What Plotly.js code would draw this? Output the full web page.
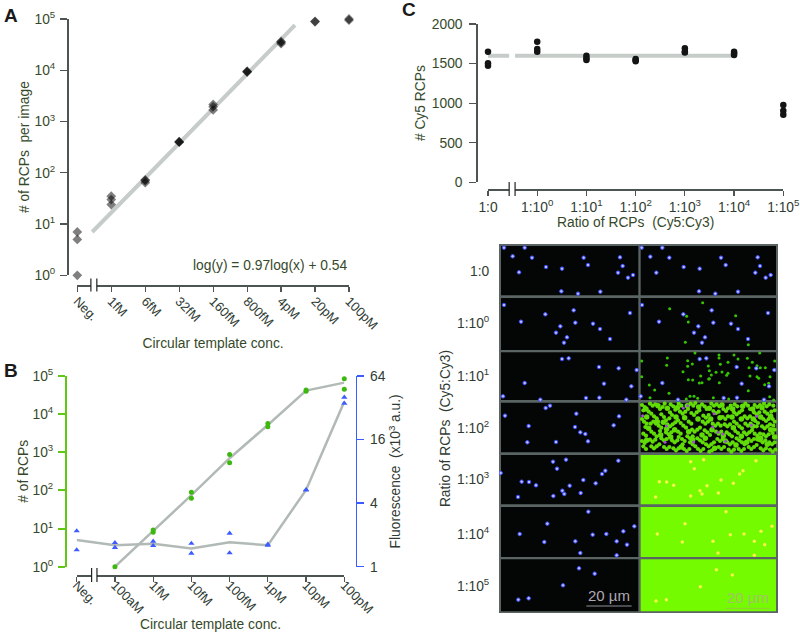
<!DOCTYPE html>
<html>
<head>
<meta charset="utf-8">
<script src="https://cdn.plot.ly/plotly-3.0.1.min.js"></script>
<style>html,body{margin:0;padding:0;background:#fff}#chart{width:800px;height:632px}</style>
</head>
<body>
<div id="chart"></div>
<script>
// ---------- Panel A ----------
const aCats = ['Neg.','1fM','6fM','32fM','160fM','800fM','4pM','20pM','100pM'];
const aX = [0,0,0, 1,1,1, 2,2,2, 3,3,3, 4,4,4, 5,5,5, 6,6,6, 7,7,7, 8,8,8];
const aY = [1,5,7, 24,30,35, 64,70,73, 395,400,405, 1680,1950,2150, 9200,9400,9600, 33000,35000,36500, 88000,90000,107000, 95000,100000,103000];
const aFitX = [0.44,6.41];
const aFitY = [7,76000];
// ---------- Panel B ----------
const bCats = ['Neg.','100aM','1fM','10fM','100fM','1pM','10pM','100pM'];
const bRcpX = [1,2,2,3,3,4,4,5,5,6,6,7,7];
const bRcpY = [1,8,9.2,62,89,535,880,4700,5700,40000,43000,45000,85000];
const bRcpLineX = [1,2,3,4,5,6,7];
const bRcpLineY = [1,8.6,75,700,5200,41500,67000];
const bFluX = [0,0,1,1,2,2,3,3,4,4,5,5,6,6,7,7];
const bFluY = [1.44,2.18,1.52,1.69,1.58,1.74,1.34,1.66,1.35,2.07,1.59,1.63,5.3,5.36,35.3,40.2];
const bFluLineX = [0,1,2,3,4,5,6,7];
const bFluLineY = [1.79,1.6,1.65,1.49,1.7,1.6,5.33,36.6];
// ---------- Panel C ----------
const cCats = ['1:0','1:10<sup>0</sup>','1:10<sup>1</sup>','1:10<sup>2</sup>','1:10<sup>3</sup>','1:10<sup>4</sup>','1:10<sup>5</sup>'];
const cX = [0,0,0,1,1,1,2,2,2,3,3,3,4,4,4,5,5,5,6,6,6];
const cY = [1474,1503,1650,1650,1684,1777,1545,1566,1600,1528,1545,1558,1640,1650,1693,1608,1629,1650,855,905,977];
const cLineX = [0,0.43,null,0.55,5];
const cLineY = [1600,1600,null,1600,1600];
// ---------- Micrograph grid (units: thirds of a pixel) ----------
const rowLabels = ['1:0','1:10<sup>0</sup>','1:10<sup>1</sup>','1:10<sup>2</sup>','1:10<sup>3</sup>','1:10<sup>4</sup>','1:10<sup>5</sup>'];
const rowCentres = [107,265,424,578,733,897,1053];
const rowTop = [33,189,352,503,660,816,973];
const rowBottom = [181,345,495,652,808,966,1129];
const blueSpots = [
[222,38],[284,38],[248,64],[306,68],[348,96],[396,101],[267,112],[461,68],[474,90],[570,67],[578,93],[564,113],[594,128],[609,120],[394,169],[444,176],[511,170],
[635,38],[697,38],[661,65],[718,68],[761,96],[809,101],[679,113],[873,68],[887,90],[983,67],[990,93],[976,113],[1007,128],[1022,120],[807,169],[856,176],[924,170],
[222,210],[346,238],[431,226],[600,234],[273,260],[436,263],[489,266],[391,274],[510,282],[378,293],[411,307],[540,312],[402,323],
[636,210],[760,238],[845,226],[1014,234],[687,260],[850,263],[903,266],[805,274],[924,282],[792,293],[825,307],[954,312],[816,323],
[396,372],[416,370],[507,396],[566,400],[620,405],[284,444],[522,446],[604,454],[219,484],[331,494],[468,489],[508,488],[589,494],
[809,372],[829,370],[920,396],[979,400],[1033,405],[697,444],[935,446],[1017,454],[632,484],[744,494],[881,489],[921,488],[1002,494],
[347,519],[360,512],[225,542],[439,536],[567,544],[296,573],[435,576],[551,571],[451,592],[466,597],[292,622],[378,621],[474,619],
[369,680],[408,674],[381,701],[565,677],[526,707],[516,717],[212,714],[275,740],[297,741],[318,751],[460,735],[497,745],[419,752],[397,767],[403,777],[452,774],[370,783],[264,786],
[475,830],[352,866],[269,897],[613,874],[580,889],[529,897],[488,899],[343,921],[436,919],[560,919],[591,929],[451,954],[560,961],
[447,1000],[494,1016],[399,1051],[265,1094],[296,1090]
];
const greenSpots = [
[719,221],[818,203],[770,244],[917,242],[775,261],[766,322],[955,329],
[795,354],[712,369],[635,378],[773,377],[787,387],[710,391],[773,394],[759,410],[835,393],[635,425],[812,423],[775,434],[788,435],[808,444],[816,443],[838,431],[658,450],[674,465],[717,475],[780,484],[792,484],[660,488],[769,492],[803,490],
[989,354],[867,360],[912,360],[867,369],[952,370],[924,372],[894,382],[871,388],[967,382],[1034,378],[981,392],[957,398],[991,398],[1006,398],[838,407],[858,412],[876,411],[894,415],[890,421],[960,423],[981,425],[986,430],[1020,425],[844,420],[836,432],[868,443],[1004,449],[1016,445],[955,467],[1019,485],[850,488],[896,492],[1031,495]
];
const denseSpots = [
[636,510],[644,516],[640,526],[660,506],[668,512],[676,508],[656,530],[664,536],[672,544],[680,550],[690,522],[698,516],[704,506],[694,538],[702,546],[708,556],[722,508],[730,514],[736,524],[720,532],[726,540],[718,550],[746,506],[754,512],[750,530],[758,536],[766,530],[774,522],[782,506],[790,512],[796,504],[784,534],[792,540],[800,532],[808,526],[816,508],[824,514],[830,522],[820,542],[828,548],[836,540],[844,506],[852,512],[860,508],[868,514],[850,528],[858,534],[866,530],[880,522],[888,528],[894,520],[902,512],[878,546],[886,552],[894,544],[914,508],[922,514],[912,532],[920,538],[928,532],[936,526],[946,506],[954,512],[960,522],[944,544],[952,550],[960,544],[974,510],[982,516],[990,510],[972,532],[980,538],[988,532],[1002,506],[1010,514],[1018,508],[1030,512],[1004,530],[1012,536],[1024,530],[1034,526],[1000,552],[1008,558],[1016,552],
[636,552],[642,560],[650,566],[646,576],[662,566],[670,560],[678,566],[686,572],[694,578],[690,588],[664,590],[672,596],[680,604],[640,596],[648,602],[712,568],[720,574],[728,568],[736,562],[708,592],[716,598],[724,592],[744,556],[752,564],[760,572],[768,578],[744,590],[752,596],[746,606],[776,560],[784,566],[786,584],[794,590],[802,584],[810,578],[772,604],[780,610],[788,604],[818,560],[826,566],[834,560],[824,586],[832,592],[840,600],[848,566],[856,572],[864,566],[872,572],[858,590],[866,596],[874,590],[884,568],[892,574],[900,568],[890,592],[898,598],[906,604],[912,560],[920,566],[928,574],[936,580],[916,588],[924,594],[946,566],[954,572],[962,566],[942,592],[950,598],[958,592],[966,586],[976,558],[984,564],[980,574],[974,596],[982,602],[990,596],[996,574],[1004,580],[1012,574],[1020,568],[1000,598],[1008,604],[1016,598],[1028,552],[1034,560],[1030,572],[1034,584],[1028,594],
[636,618],[644,624],[640,634],[648,642],[660,614],[668,620],[676,614],[664,634],[672,640],[680,634],[688,628],[694,610],[702,616],[710,612],[702,636],[710,642],[718,636],[726,616],[734,622],[742,616],[730,640],[738,646],[746,640],[756,612],[764,618],[758,628],[762,642],[770,648],[778,642],[780,622],[788,628],[796,634],[802,610],[810,616],[818,622],[804,642],[812,648],[820,642],[828,628],[836,634],[844,628],[852,622],[838,650],[846,646],[862,612],[870,618],[878,612],[866,636],[874,642],[882,636],[892,622],[900,628],[908,622],[896,644],[904,650],[912,644],[920,610],[928,616],[936,622],[944,628],[926,642],[934,648],[942,642],[956,612],[964,618],[972,612],[956,636],[964,642],[972,636],[980,630],[990,616],[998,622],[1006,616],[992,640],[1000,646],[1008,640],[1018,622],[1026,628],[1034,622],[1020,644],[1028,650],[1036,644]
];
const denseBlobs = [
[648,522],[684,512],[712,520],[742,518],[772,512],[806,516],[838,520],[876,510],[908,522],[938,514],[968,522],[996,518],
[650,546],[682,560],[710,582],[738,546],[764,548],[804,552],[842,552],[870,548],[906,546],[934,552],[970,552],[992,546],[1022,544],
[656,580],[700,562],[734,584],[776,590],[816,600],[846,584],[880,602],[910,578],[934,604],[968,574],[992,610],[1022,584],
[650,616],[692,600],[722,606],[754,636],[788,614],[826,610],[854,640],[886,618],[918,630],[950,622],[984,612],[1012,628],[1034,606]
];
const denseBlue = [[760,519],[773,512],[638,542],[852,536],[980,544],[709,573],[848,576],[964,571],[864,592],[879,597],[705,622],[791,621],[887,619]];
const yellowSpots = [
[782,680],[821,674],[793,701],[978,677],[939,707],[929,717],[688,740],[710,741],[731,751],[873,735],[910,745],[831,752],[810,767],[816,777],[865,774],[782,783],[677,786],
[888,830],[765,866],[682,897],[1026,874],[993,889],[942,897],[901,899],[757,921],[849,919],[973,919],[1004,929],[864,954],[973,961],
[859,1004],[907,1020],[811,1055],[678,1098],[709,1094]
];

// ---------- style ----------
const FONT = 'Liberation Sans, Arial, sans-serif';
const FS = 13.8;
const W = 800, H = 632;
const TXT = '#35492a', TXT2 = '#2f3b33', AX = '#4d5553', FITA = '#c6ccc8', FITB = '#b2bab5';
const fx = p => p / W, fy = p => 1 - p / H;
const col = (a, i) => a.map(p => p[i]);

const spotTrace = (pts, size, color, line) => ({
  x: col(pts,0), y: col(pts,1), xaxis:'x5', yaxis:'y5', mode:'markers', type:'scatter', hoverinfo:'skip',
  marker:{size, color, line:{color:line||color, width:line?1:0}}, cliponaxis:true
});

const traces = [
  // A
  {x:aFitX,y:aFitY,xaxis:'x',yaxis:'y',mode:'lines',line:{color:FITA,width:4},type:'scatter',cliponaxis:false},
  {x:aX,y:aY,xaxis:'x',yaxis:'y',mode:'markers',type:'scatter',cliponaxis:false,marker:{symbol:'diamond',size:7.5,color:'rgba(0,0,0,0.5)',line:{width:0}}},
  // B
  {x:bRcpLineX,y:bRcpLineY,xaxis:'x2',yaxis:'y2',mode:'lines',line:{color:FITB,width:2.5},type:'scatter',cliponaxis:false},
  {x:bFluLineX,y:bFluLineY,xaxis:'x2',yaxis:'y3',mode:'lines',line:{color:FITB,width:2.5},type:'scatter',cliponaxis:false},
  {x:bRcpX,y:bRcpY,xaxis:'x2',yaxis:'y2',mode:'markers',type:'scatter',cliponaxis:false,marker:{size:5,color:'#3cb80e'}},
  {x:bFluX,y:bFluY,xaxis:'x2',yaxis:'y3',mode:'markers',type:'scatter',cliponaxis:false,marker:{symbol:'triangle-up',size:5.5,color:'#3d5cff'}},
  // C
  {x:cLineX,y:cLineY,xaxis:'x3',yaxis:'y4',mode:'lines',line:{color:FITA,width:4},type:'scatter',cliponaxis:false},
  {x:cX,y:cY,xaxis:'x3',yaxis:'y4',mode:'markers',type:'scatter',cliponaxis:false,marker:{size:6.5,color:'#141414'}},
  // micrographs
  spotTrace(greenSpots,3,'#36c400'),
  spotTrace(denseSpots,4.2,'#62dc08'),
  spotTrace(denseBlobs,5.5,'#62dc08'),
  spotTrace(denseBlue,3,'#a04fd0'),
  spotTrace(blueSpots,3.5,'#b8c0ff','#3a48ff'),
  spotTrace(yellowSpots,3.5,'#f6f24a')
];

const baseX = {showgrid:false,zeroline:false,showline:true,linecolor:AX,linewidth:1.5,ticks:'outside',ticklen:5,tickcolor:AX,tickwidth:1.2,anchor:'free',tickmode:'array',
  tickfont:{family:FONT,size:FS,color:TXT2}};
const baseY = {showgrid:false,zeroline:false,showline:true,linecolor:AX,linewidth:1.5,ticks:'outside',ticklen:7,tickcolor:AX,tickwidth:1.2,anchor:'free',tickmode:'array',ticklabelstandoff:2,
  tickfont:{family:FONT,size:FS,color:TXT}};
const ttl = (text, standoff, color) => ({text, standoff, font:{family:FONT,size:FS,color:color||TXT}});
const pow10 = [1,10,100,1000,10000,100000];
const pow10Txt = ['10<sup>0</sup>','10<sup>1</sup>','10<sup>2</sup>','10<sup>3</sup>','10<sup>4</sup>','10<sup>5</sup>'];
const rotFont = {family:FONT,size:13,color:TXT2};

const layout = {
  width:W,height:H,margin:{l:0,r:0,t:0,b:0},paper_bgcolor:'#fff',plot_bgcolor:'rgba(0,0,0,0)',showlegend:false,hovermode:false,
  xaxis:{...baseX,domain:[fx(77.3),fx(349)],range:[0,8],position:fy(285),tickvals:aX.filter((v,i)=>i%3===0),ticktext:aCats,tickangle:45,tickfont:rotFont,ticklabelstandoff:-3,title:ttl('Circular template conc.',7)},
  yaxis:{...baseY,type:'log',domain:[fy(275.3),fy(19)],range:[0,5],position:fx(67),tickvals:pow10,ticktext:pow10Txt,title:ttl('# of RCPs  per image',0)},
  xaxis2:{...baseX,domain:[fx(76.7),fx(344.3)],range:[0,7],position:fy(575),tickvals:[0,1,2,3,4,5,6,7],ticktext:bCats,tickangle:45,tickfont:rotFont,ticklabelstandoff:-9,title:ttl('Circular template conc.',9)},
  yaxis2:{...baseY,type:'log',domain:[fy(566.7),fy(376)],range:[0,5],position:fx(66),linecolor:'#5ec812',tickcolor:'#5ec812',linewidth:2,tickwidth:2,tickvals:pow10,ticktext:pow10Txt,title:ttl('# of RCPs',0)},
  yaxis3:{...baseY,type:'log',side:'right',overlaying:'y2',domain:[fy(566.7),fy(376)],range:[0,Math.log10(64)],position:fx(355.7),linecolor:'#3d5cff',tickcolor:'#3d5cff',tickwidth:1.5,ticklabelstandoff:3,tickvals:[1,4,16,64],ticktext:['1','4','16','64'],tickfont:{family:FONT,size:FS,color:TXT2},title:ttl('Fluorescence  (x10<sup>3</sup> a.u.)',2,TXT2)},
  xaxis3:{...baseX,domain:[fx(488),fx(783.3)],range:[0,6],position:fy(189),tickvals:[0,1,2,3,4,5,6],ticktext:cCats,tickangle:0,title:ttl('Ratio of RCPs  (Cy5:Cy3)',2)},
  yaxis4:{...baseY,domain:[fy(182.3),fy(24)],range:[0,2000],position:fx(476.3),ticklabelstandoff:4,tickvals:[0,500,1000,1500,2000],ticktext:['0','500','1000','1500','2000'],title:ttl('# Cy5 RCPs',1)},
  xaxis5:{domain:[fx(499),fx(778)],range:[207,1044],showgrid:false,zeroline:false,showline:false,showticklabels:false,ticks:'',anchor:'y5'},
  yaxis5:{domain:[fy(613),fy(244)],range:[1134,27],showgrid:false,zeroline:false,showline:false,ticks:'outside',ticklen:3,tickcolor:'rgba(0,0,0,0)',anchor:'free',position:fx(495),tickmode:'array',
    tickvals:rowCentres,ticktext:rowLabels,tickfont:{family:FONT,size:FS,color:TXT2},title:ttl('Ratio of RCPs  (Cy5:Cy3)',2,TXT2)},
  shapes:[],
  annotations:[
    {text:'<b>A</b>',x:fx(2),y:fy(15),xref:'paper',yref:'paper',xanchor:'left',yanchor:'middle',showarrow:false,font:{family:FONT,size:19,color:'#1a1a1a'}},
    {text:'<b>B</b>',x:fx(2),y:fy(370),xref:'paper',yref:'paper',xanchor:'left',yanchor:'middle',showarrow:false,font:{family:FONT,size:19,color:'#1a1a1a'}},
    {text:'<b>C</b>',x:fx(400),y:fy(10),xref:'paper',yref:'paper',xanchor:'left',yanchor:'middle',showarrow:false,font:{family:FONT,size:19,color:'#1a1a1a'}},
    {text:'log(y) = 0.97log(x) + 0.54',x:fx(270),y:fy(265),xref:'paper',yref:'paper',showarrow:false,font:{family:FONT,size:FS,color:TXT}},
    {text:'20 µm',x:537,y:1082,xref:'x5',yref:'y5',showarrow:false,font:{family:FONT,size:15,color:'#b0a8b4'}},
    {text:'20 µm',x:953,y:1088,xref:'x5',yref:'y5',showarrow:false,font:{family:FONT,size:15,color:'#a5c06a'}}
  ]
};

// axis-break marks
function brk(xref, x1, x2, axisY, half){
  layout.shapes.push({type:'rect',xref,yref:'paper',x0:x1,x1:x2,y0:fy(axisY+2),y1:fy(axisY-2),fillcolor:'#fff',line:{width:0},layer:'above'});
  [x1,x2].forEach(x=>layout.shapes.push({type:'line',xref,yref:'paper',x0:x,x1:x,y0:fy(axisY+half),y1:fy(axisY-half),line:{color:'#222',width:1.2},layer:'above'}));
}
brk('x',0.40,0.575,285,6.5);
brk('x2',0.39,0.53,575,7);
brk('x3',0.43,0.55,189,7);

// micrograph frames
const rect = (x0,x1,y0,y1,c) => ({type:'rect',xref:'x5',yref:'y5',x0,x1,y0,y1,fillcolor:c,line:{width:0},layer:'below'});
layout.shapes.push(rect(207,1044,27,1134,'#5a6462'));
rowTop.forEach((t,i)=>{
  layout.shapes.push(rect(213,625,t,rowBottom[i],'#040606'));
  layout.shapes.push(rect(632,1038,t,rowBottom[i],i>=4?'#74fb00':'#040606'));
});
// scale bars
layout.shapes.push({type:'line',xref:'x5',yref:'y5',x0:469,x1:605,y0:1113,y1:1113,line:{color:'#8f8f96',width:1},layer:'above'});
layout.shapes.push({type:'line',xref:'x5',yref:'y5',x0:885,x1:1020,y0:1120,y1:1120,line:{color:'#96cc40',width:1},layer:'above'});

Plotly.newPlot('chart',traces,layout,{staticPlot:true,displayModeBar:false});
</script>
</body>
</html>
